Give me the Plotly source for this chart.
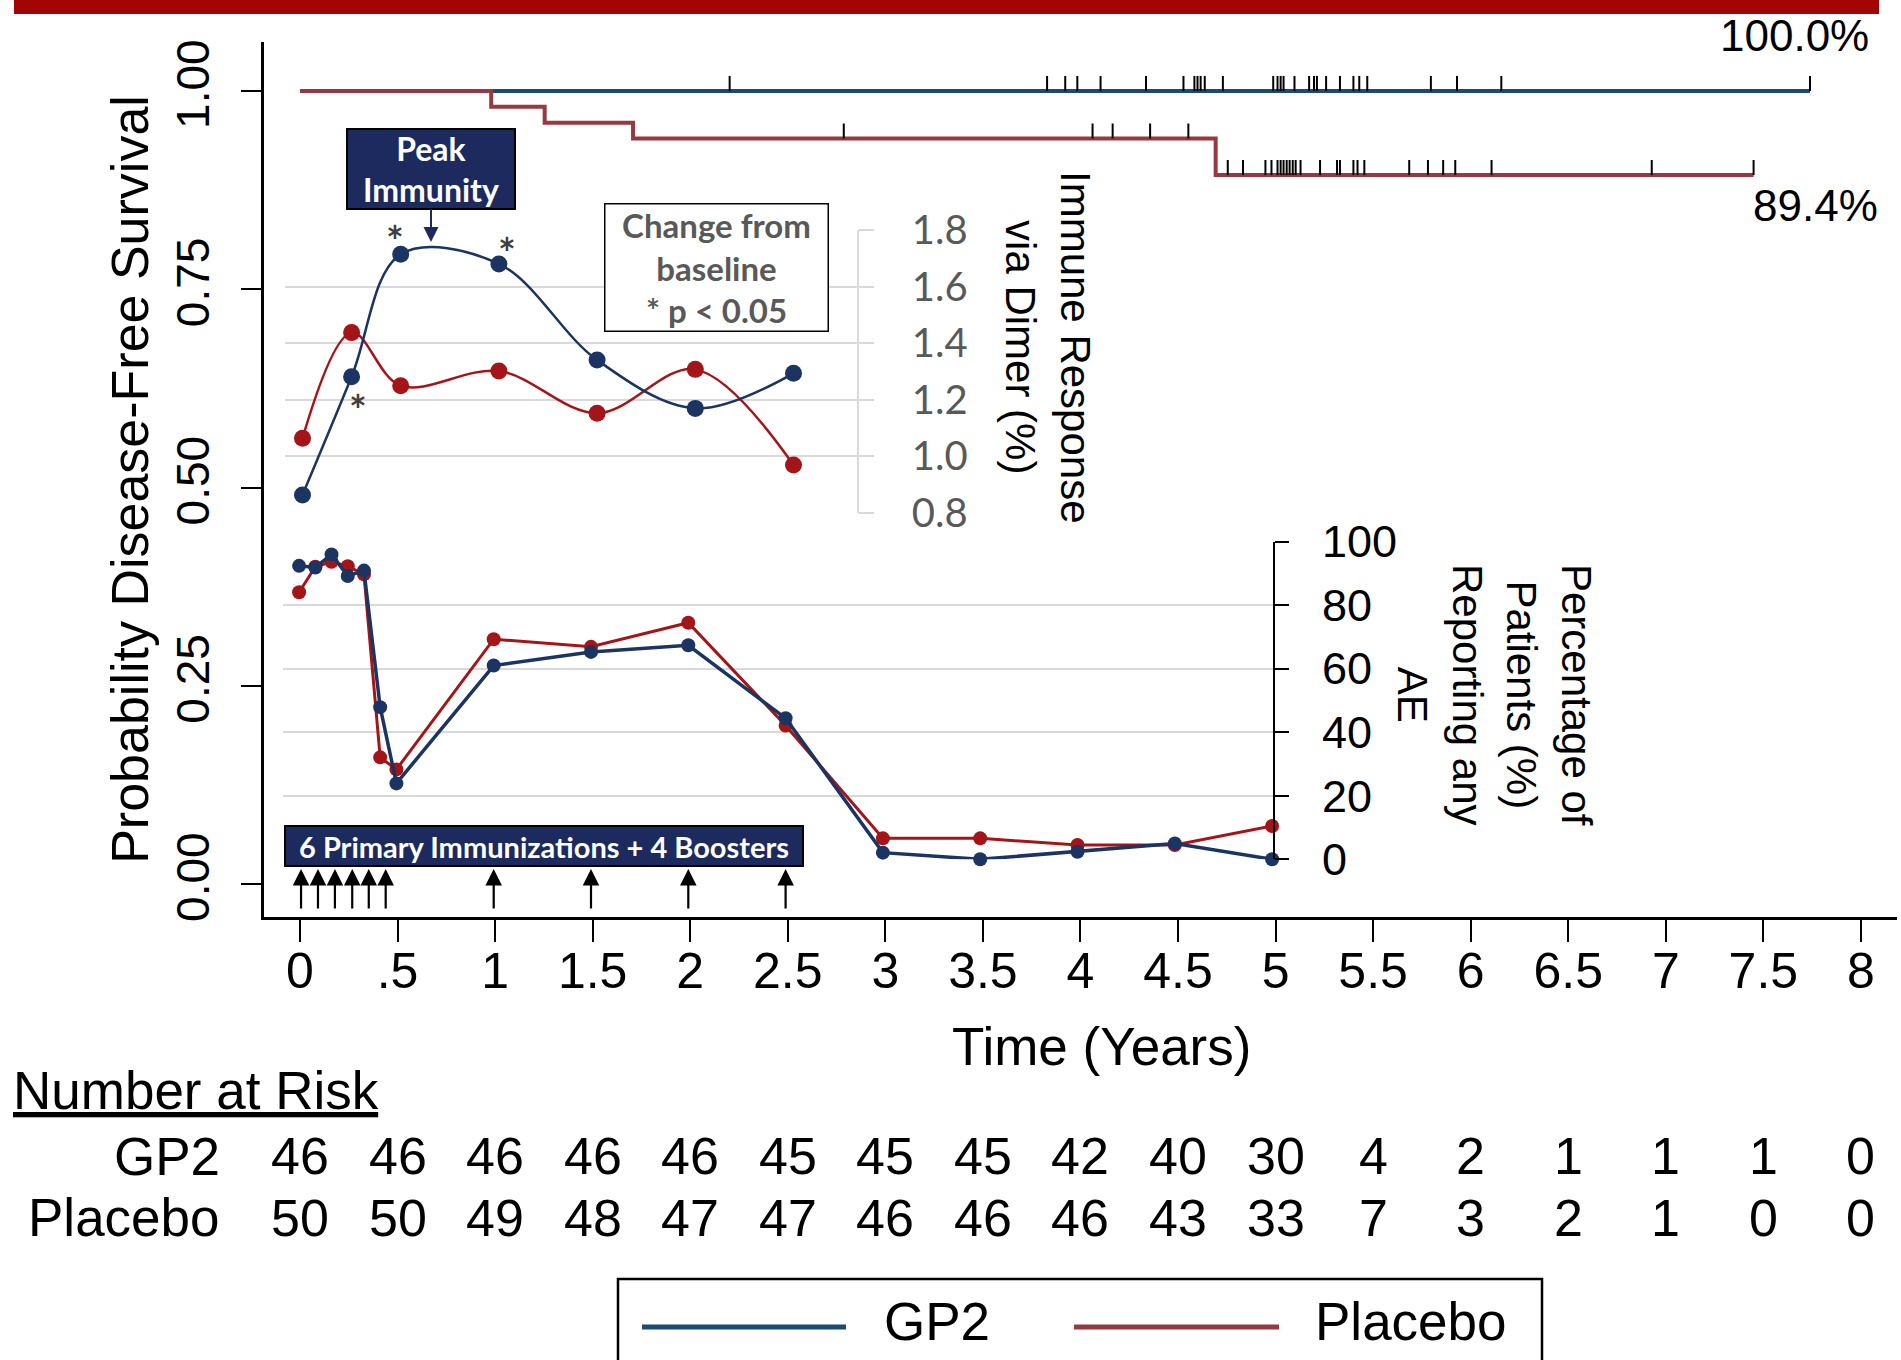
import plotly.graph_objects as go

# ---------------- data ----------------
risk_times = [0, 0.5, 1, 1.5, 2, 2.5, 3, 3.5, 4, 4.5, 5, 5.5, 6, 6.5, 7, 7.5, 8]
risk_tick_labels = ["0", ".5", "1", "1.5", "2", "2.5", "3", "3.5", "4", "4.5",
                    "5", "5.5", "6", "6.5", "7", "7.5", "8"]
risk_gp2 = [46, 46, 46, 46, 46, 45, 45, 45, 42, 40, 30, 4, 2, 1, 1, 1, 0]
risk_placebo = [50, 50, 49, 48, 47, 47, 46, 46, 46, 43, 33, 7, 3, 2, 1, 0, 0]

km_gp2_time = [0.0, 7.739]
km_gp2_surv = [1.0, 1.0]
km_placebo_time = [0.0, 0.98, 1.254, 1.707, 4.693, 7.450]
km_placebo_surv = [1.0, 0.98, 0.96, 0.94, 0.894, 0.894]

censor_gp2 = [2.202, 3.829, 3.922, 3.984, 4.103, 4.336, 4.528, 4.584, 4.600, 4.616,
              4.637, 4.730, 4.988, 5.010, 5.026, 5.041, 5.097, 5.172, 5.197, 5.212,
              5.259, 5.330, 5.399, 5.429, 5.470, 5.796, 5.930, 6.157, 7.739]
censor_placebo = [2.787, 4.062, 4.165, 4.357, 4.553, 4.755, 4.833, 4.948, 4.979, 5.010,
                  5.026, 5.041, 5.057, 5.072, 5.088, 5.103, 5.128, 5.228, 5.315, 5.330,
                  5.399, 5.420, 5.455, 5.685, 5.781, 5.859, 5.921, 6.107, 6.928, 7.450]

immune_time = [0, 0.25, 0.5, 1, 1.5, 2, 2.5]
immune_gp2 = [0.863, 1.281, 1.714, 1.680, 1.340, 1.169, 1.293]
immune_placebo = [1.063, 1.437, 1.249, 1.301, 1.152, 1.307, 0.969]
immune_gp2_significant = [False, True, True, True, False, False, False]

ae_time = [0, 1/12, 2/12, 3/12, 4/12, 5/12, 0.5, 1, 1.5, 2, 2.5, 3, 3.5, 4, 4.5, 5]
ae_gp2 = [92.4, 91.9, 96.0, 89.2, 90.9, 47.9, 23.9, 61.0, 65.3, 67.4, 44.4, 2.1, 0.0, 2.4, 5.0, 0.0]
ae_placebo = [84.1, 92.1, 93.7, 92.3, 89.7, 32.1, 28.3, 69.3, 66.9, 74.5, 42.1, 6.6, 6.6, 4.5, 4.5, 10.5]

# immunization arrows as drawn (6 primary + 4 boosters)
immunization_time = [0.010, 0.097, 0.184, 0.273, 0.358, 0.445, 1.0, 1.5, 2.0, 2.5]

# ---------------- styles ----------------
W, H = 1901, 1360
ML, MR, MT, MB = 264, 4, 42, 443
PW = W - ML - MR
PH = H - MT - MB


def X(px):
    return (px - ML) / PW


def Y(py):
    return (MT + PH - py) / PH


def XD(px):  # pixel -> main x data
    return (px - 300.0) / 195.1


def YD(py):  # pixel -> main y data
    return (884.0 - py) / 793.0


ARIAL = "Liberation Sans, Arial, sans-serif"
CAL = "Lato, Carlito, Calibri, sans-serif"
KM_BLUE = "#1b4a73"
KM_RED = "#943a40"
IN_BLUE = "#1b3461"
IN_RED = "#a31518"
NAVY = "#1c2a5e"
GRID_MAIN = "#eaf1f3"
GRID_IN = "#d9d9d9"
CENSOR_TICK = 0.019


def km_at(times, surv, t):
    v = surv[0]
    for ti, si in zip(times, surv):
        if ti <= t:
            v = si
    return v


fig = go.Figure()

# Kaplan-Meier curves
fig.add_trace(go.Scatter(x=km_gp2_time, y=km_gp2_surv, mode="lines", line_shape="hv",
                         line=dict(color=KM_BLUE, width=4), name="GP2", showlegend=False))
fig.add_trace(go.Scatter(x=km_placebo_time, y=km_placebo_surv, mode="lines", line_shape="hv",
                         line=dict(color=KM_RED, width=4), name="Placebo", showlegend=False))
for cens, t_arr, s_arr in [(censor_gp2, km_gp2_time, km_gp2_surv),
                           (censor_placebo, km_placebo_time, km_placebo_surv)]:
    fig.add_trace(go.Scatter(
        x=cens, y=[km_at(t_arr, s_arr, c) for c in cens], mode="markers",
        marker=dict(size=1, color="rgba(0,0,0,0)"),
        error_y=dict(type="data", symmetric=False, array=[CENSOR_TICK] * len(cens),
                     arrayminus=[0] * len(cens), color="black", thickness=2, width=0),
        showlegend=False, hoverinfo="x"))

# Immune response inset
fig.add_trace(go.Scatter(x=immune_time, y=immune_placebo, xaxis="x2", yaxis="y2",
                         mode="lines+markers", line=dict(color=IN_RED, width=2.5, shape="spline"),
                         marker=dict(size=17, color=IN_RED), cliponaxis=False, showlegend=False))
fig.add_trace(go.Scatter(x=immune_time, y=immune_gp2, xaxis="x2", yaxis="y2",
                         mode="lines+markers", line=dict(color=IN_BLUE, width=2.5, shape="spline"),
                         marker=dict(size=17, color=IN_BLUE), cliponaxis=False, showlegend=False))

# Adverse events inset
fig.add_trace(go.Scatter(x=ae_time, y=ae_placebo, xaxis="x3", yaxis="y3",
                         mode="lines+markers", line=dict(color=IN_RED, width=3),
                         marker=dict(size=14, color=IN_RED), cliponaxis=False, showlegend=False))
fig.add_trace(go.Scatter(x=ae_time, y=ae_gp2, xaxis="x3", yaxis="y3",
                         mode="lines+markers", line=dict(color=IN_BLUE, width=3.5),
                         marker=dict(size=14, color=IN_BLUE), cliponaxis=False, showlegend=False))

annotations = []


def ann(**kw):
    kw.setdefault("xanchor", "center")
    kw.setdefault("yanchor", "middle")
    kw.setdefault("showarrow", False)
    annotations.append(kw)


# x-axis title
ann(text="Time (Years)", xref="paper", yref="paper", x=X(1101), y=Y(1046),
    font=dict(family=ARIAL, size=53, color="black"))

# Number at risk table
ann(text="Number at Risk", xref="paper", yref="paper", x=X(11), y=Y(1090), xanchor="left",
    font=dict(family=ARIAL, size=53, color="black", lineposition="under"))
for label, row, py in [("GP2", risk_gp2, 1156), ("Placebo", risk_placebo, 1217.5)]:
    ann(text=label, xref="paper", yref="paper", x=X(222), y=Y(py), xanchor="right",
        font=dict(family=ARIAL, size=53, color="black"))
    for t, n in zip(risk_times, row):
        ann(text=str(n), xref="x", yref="paper", x=t, y=Y(py),
            font=dict(family=ARIAL, size=52, color="black"))

# final survival labels
ann(text=f"{km_gp2_surv[-1] * 100:.1f}%", xref="paper", yref="paper", x=X(1794), y=Y(36),
    font=dict(family=ARIAL, size=44, color="black"))
ann(text=f"{km_placebo_surv[-1] * 100:.1f}%", xref="paper", yref="paper", x=X(1815), y=Y(206),
    font=dict(family=ARIAL, size=44, color="black"))

# Peak immunity callout
ann(text="<b>Peak<br>Immunity</b>", xref="paper", yref="paper",
    x=X(431), y=Y(242), ax=0, ay=-73, showarrow=True,
    arrowhead=2, arrowsize=1.5, arrowwidth=2, arrowcolor=NAVY,
    bgcolor=NAVY, bordercolor="black", borderwidth=2, borderpad=1,
    width=164, height=76, align="center",
    font=dict(family=CAL, size=32, color="white"))

# Change from baseline box
ann(text="<b>Change from<br>baseline<br>* p &lt; 0.05</b>", xref="paper", yref="paper",
    x=X(716.5), y=Y(267.5), bgcolor="white", bordercolor="black", borderwidth=1.5,
    borderpad=1, width=220, height=124, align="center",
    font=dict(family=CAL, size=33, color="#595959"))

# significance asterisks
sig_shift = {1: (6, -33), 2: (-6, 13), 3: (8, 11)}
for i, (t, v, s) in enumerate(zip(immune_time, immune_gp2, immune_gp2_significant)):
    if s:
        dx, dy = sig_shift[i]
        ann(text="<b>*</b>", xref="x2", yref="y2", x=t, y=v, xshift=dx, yshift=dy,
            font=dict(family=CAL, size=42, color="#404040"))

# inset axis titles
ann(text="Immune Response<br>via Dimer (%)", xref="paper", yref="paper",
    x=X(1048), y=Y(347), textangle=90, font=dict(family=ARIAL, size=42, color="black"))
ann(text="Percentage of<br>Patients (%)<br>Reporting any<br>AE", xref="paper", yref="paper",
    x=X(1494), y=Y(695), textangle=90, font=dict(family=ARIAL, size=42, color="black"))

# immunization label and arrows
ann(text="<b>6 Primary Immunizations + 4 Boosters</b>", xref="paper", yref="paper",
    x=X(544), y=Y(846), bgcolor=NAVY, bordercolor="black", borderwidth=2, borderpad=1,
    width=514, height=36, font=dict(family=CAL, size=29, color="white"))
for t in immunization_time:
    ann(text="", xref="x3", yref="paper", x=t, y=Y(869), ax=0, ay=41, showarrow=True,
        arrowhead=2, arrowsize=1.5, arrowwidth=2.2, arrowcolor="black")

# legend texts
ann(text="GP2", xref="paper", yref="paper", x=X(882), y=Y(1321), xanchor="left",
    font=dict(family=ARIAL, size=53, color="black"))
ann(text="Placebo", xref="paper", yref="paper", x=X(1313), y=Y(1321), xanchor="left",
    font=dict(family=ARIAL, size=53, color="black"))

shapes = [
    # top banner
    dict(type="rect", xref="paper", yref="paper", x0=X(14), x1=X(1879), y0=Y(14), y1=Y(-10),
         fillcolor="#a30404", line=dict(width=0), layer="above"),
    # legend
    dict(type="rect", xref="paper", yref="paper", x0=X(618), x1=X(1542), y0=Y(1400),
         y1=Y(1279), fillcolor="rgba(0,0,0,0)", line=dict(color="black", width=2.5)),
    dict(type="line", xref="paper", yref="paper", x0=X(642), x1=X(846), y0=Y(1327),
         y1=Y(1327), line=dict(color=KM_BLUE, width=5)),
    dict(type="line", xref="paper", yref="paper", x0=X(1074), x1=X(1279), y0=Y(1327),
         y1=Y(1327), line=dict(color=KM_RED, width=5)),
    # white backgrounds behind inset titles (hide main grid lines)
    dict(type="rect", xref="x", yref="y", x0=XD(857), x1=XD(1020), y0=YD(530), y1=YD(225),
         fillcolor="white", line=dict(width=0), layer="between"),
    dict(type="rect", xref="x", yref="y", x0=XD(1273), x1=XD(1737), y0=YD(862), y1=YD(535),
         fillcolor="white", line=dict(width=0), layer="between"),
]

xr0, xr1 = -0.1845, 8.185
yr0, yr1 = -0.0416, 1.0618

fig.update_layout(
    width=W, height=H,
    margin=dict(l=ML, r=MR, t=MT, b=MB),
    paper_bgcolor="white", plot_bgcolor="white",
    showlegend=False,
    font=dict(family=ARIAL, color="black"),
    xaxis=dict(domain=[0, 1], range=[xr0, xr1], tickvals=risk_times, ticktext=risk_tick_labels,
               ticks="outside", ticklen=22, tickwidth=2, tickcolor="black",
               showline=True, linewidth=3, linecolor="black", showgrid=False, zeroline=False,
               ticklabelstandoff=-14,
               tickfont=dict(family=ARIAL, size=50, color="black")),
    yaxis=dict(domain=[0, 1], range=[yr0, yr1], tickvals=[0, 0.25, 0.5, 0.75, 1.0],
               tickformat=".2f", tickangle=-90, ticks="outside", ticklen=20, tickwidth=2,
               tickcolor="black", showline=True, linewidth=3, linecolor="black",
               showgrid=False, zeroline=False, ticklabelstandoff=14,
               tickfont=dict(family=ARIAL, size=46, color="black"),
               title=dict(text="Probability Disease-Free Survival",
                          font=dict(family=ARIAL, size=52, color="black"), standoff=2)),
    yaxis4=dict(overlaying="y", anchor="x", range=[yr0, yr1], tickvals=[0.25, 0.5, 0.75, 1.0],
                showgrid=True, gridcolor=GRID_MAIN, gridwidth=5, showticklabels=False,
                ticks="", showline=False, zeroline=False),
    xaxis2=dict(domain=[X(285), X(857)], range=[(285 - 302.5) / 196.4, (857 - 302.5) / 196.4],
                anchor="y2", visible=False),
    yaxis2=dict(domain=[Y(512.7), Y(230)], range=[0.8, 1.8], anchor="x2", side="right",
                tickvals=[0.8, 1.0, 1.2, 1.4, 1.6, 1.8], tickformat=".1f",
                showgrid=True, gridcolor=GRID_IN, gridwidth=1.5, zeroline=False,
                ticks="outside", ticklen=15, tickwidth=1.5, tickcolor=GRID_IN,
                showline=True, linewidth=1.5, linecolor=GRID_IN, ticklabelstandoff=30,
                tickfont=dict(family=CAL, size=40, color="#595959")),
    xaxis3=dict(domain=[X(283), X(1273)], range=[(283 - 299.1) / 194.6, (1273 - 299.1) / 194.6],
                anchor="y3", visible=False),
    yaxis3=dict(domain=[Y(859.3), Y(541.7)], range=[0, 100], anchor="x3", side="right",
                tickvals=[0, 20, 40, 60, 80, 100],
                showgrid=True, gridcolor=GRID_IN, gridwidth=2, zeroline=False,
                ticks="outside", ticklen=14, tickwidth=2, tickcolor="black",
                showline=True, linewidth=2, linecolor="black", ticklabelstandoff=24,
                tickfont=dict(family=ARIAL, size=45, color="black")),
    annotations=annotations,
    shapes=shapes,
)

fig.write_html("out.html", config={"displayModeBar": False},
               post_script="document.body.style.margin='0';")
